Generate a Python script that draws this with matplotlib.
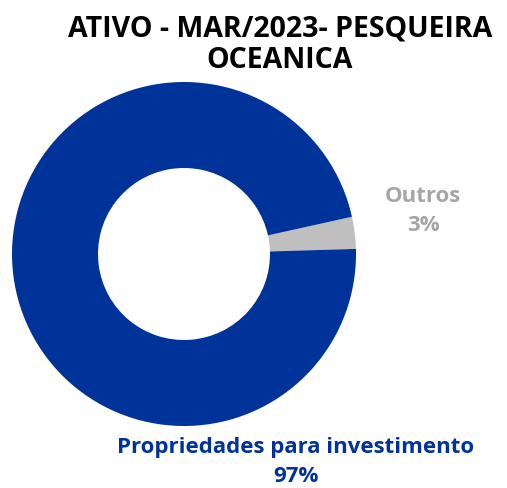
import matplotlib
matplotlib.use("Agg")
import matplotlib.pyplot as plt

categories = ["Outros", "Propriedades para investimento"]
shares = [3, 97]
colors = ["#BFBFBF", "#003399"]
label_colors = ["#A6A6A6", "#003399"]
title = "ATIVO - MAR/2023- PESQUEIRA\nOCEANICA"

W, H = 507, 488
plt.rcParams["font.family"] = ["Open Sans", "DejaVu Sans"]

fig = plt.figure(figsize=(W / 100, H / 100), dpi=100)
fig.patch.set_facecolor("white")

# donut occupies roughly x 12..356, y 82..426 in pixels
ax = fig.add_axes([12 / W, 1 - 426 / H, 344 / W, 344 / H])
ax.pie(shares, colors=colors, startangle=1.7, counterclock=True, radius=1.0,
       wedgeprops=dict(width=0.5, edgecolor="none"))
ax.set_xlim(-1, 1)
ax.set_ylim(-1, 1)
ax.set_aspect("equal")
ax.axis("off")

def px(x, y):
    return x / W, 1 - y / H

fig.text(*px(280, 45), title, ha="center", va="center", fontsize=20.5,
         fontweight="bold", color="black", linespacing=1.1)

fig.text(*px(423, 211), f"{categories[0]}\n{shares[0]}%", ha="center", va="center",
         fontsize=16, fontweight="bold", color=label_colors[0], linespacing=1.5)
fig.text(*px(296, 462), f"{categories[1]}\n{shares[1]}%", ha="center", va="center",
         fontsize=16, fontweight="bold", color=label_colors[1], linespacing=1.5)

fig.savefig("out.png", dpi=100)
